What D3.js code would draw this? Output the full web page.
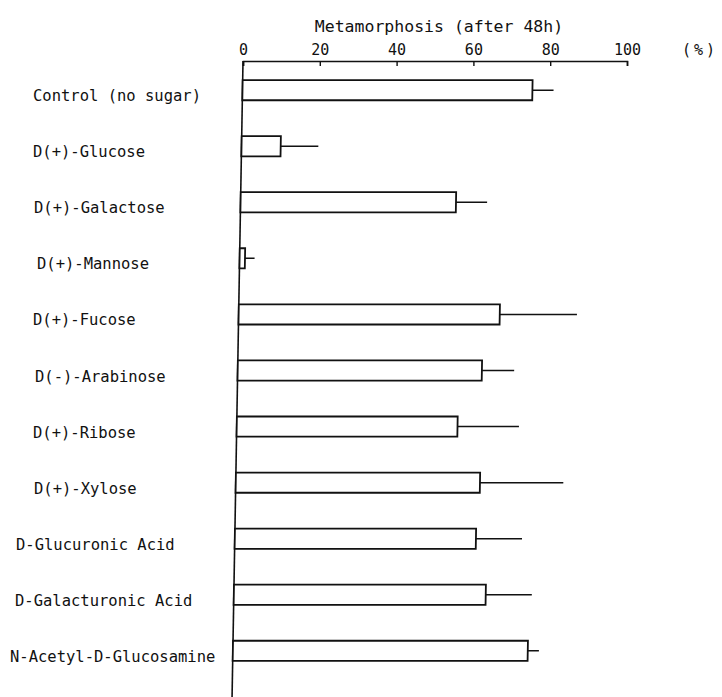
<!DOCTYPE html>
<html>
<head>
<meta charset="utf-8">
<script src="https://cdn.jsdelivr.net/npm/d3@7"></script>
<style>
  html, body { margin: 0; padding: 0; background: #fff; }
  svg { display: block; }
  text { font-family: "DejaVu Sans Mono", monospace; fill: #111; }
</style>
</head>
<body>
<svg id="chart" width="722" height="697"></svg>
<script>
// Sugars tested and metamorphosis rate (%) after 48 h, with the upper error extent
const categories = [
  "Control (no sugar)",
  "D(+)-Glucose",
  "D(+)-Galactose",
  "D(+)-Mannose",
  "D(+)-Fucose",
  "D(-)-Arabinose",
  "D(+)-Ribose",
  "D(+)-Xylose",
  "D-Glucuronic Acid",
  "D-Galacturonic Acid",
  "N-Acetyl-D-Glucosamine"
];
const meanValues = [75.5, 10.2, 56.1, 1.4, 68.0, 63.6, 57.5, 63.6, 62.8, 65.6, 76.8];
const errorValues = [5.5, 9.8, 8.1, 2.5, 20.1, 8.4, 16.0, 21.7, 12.0, 12.0, 2.9];
const tickValues = [0, 20, 40, 60, 80, 100];

// Left edge of each row label
const labelX = [33, 33, 34, 37, 33, 35, 33, 34, 16, 15, 10];

const svg = d3.select("#chart");
const axisY = 61;
const axisBottom = 697;

const x = d3.scaleLinear().domain([0, 100]).range([243, 627]);
const y = d3.scaleBand()
  .domain(categories)
  .range([axisY, 680])
  .paddingInner(0.64)
  .paddingOuter(0.34);

const rows = categories.map((c, i) => ({ name: c, mean: meanValues[i], err: errorValues[i], lx: labelX[i] }));

// Title and unit
svg.append("text")
  .attr("x", (x(0) + x(100)) / 2 + 4)
  .attr("y", 32)
  .attr("text-anchor", "middle")
  .style("font-size", "16.5px")
  .text("Metamorphosis (after 48h)");

svg.append("text")
  .attr("x", 700)
  .attr("y", 55)
  .attr("text-anchor", "middle")
  .style("font-size", "15px")
  .style("letter-spacing", "3px")
  .text("(%)");

// Top value axis with inward ticks
const topAxis = svg.append("g")
  .attr("transform", `translate(0,${axisY})`)
  .call(d3.axisTop(x)
    .tickValues(tickValues)
    .tickSizeInner(-5)
    .tickSizeOuter(-5)
    .tickPadding(10));
topAxis.select(".domain").attr("stroke", "#111").attr("stroke-width", 1.6);
topAxis.selectAll(".tick line").attr("stroke", "#111").attr("stroke-width", 1.4);
topAxis.selectAll(".tick text")
  .attr("y", -6)
  .style("font-family", "DejaVu Sans Mono, monospace")
  .style("font-size", "15px")
  .attr("fill", "#111");

// Marks: the plotted area leans slightly to the left going down
const skew = Math.atan(-0.0172) * 180 / Math.PI;
const plot = svg.append("g")
  .attr("transform", `translate(0,${axisY}) skewX(${skew}) translate(0,${-axisY})`);

plot.append("line")
  .attr("x1", x(0)).attr("x2", x(0))
  .attr("y1", axisY).attr("y2", axisBottom)
  .attr("stroke", "#111").attr("stroke-width", 1.6);

plot.selectAll("line.err")
  .data(rows)
  .join("line")
  .attr("class", "err")
  .attr("x1", d => x(d.mean))
  .attr("x2", d => x(d.mean + d.err))
  .attr("y1", d => y(d.name) + y.bandwidth() / 2)
  .attr("y2", d => y(d.name) + y.bandwidth() / 2)
  .attr("stroke", "#111")
  .attr("stroke-width", 1.5);

plot.selectAll("rect.bar")
  .data(rows)
  .join("rect")
  .attr("class", "bar")
  .attr("x", x(0))
  .attr("y", d => y(d.name))
  .attr("width", d => x(d.mean) - x(0))
  .attr("height", y.bandwidth())
  .attr("fill", "#fff")
  .attr("stroke", "#111")
  .attr("stroke-width", 1.8);

// Row labels
svg.selectAll("text.cat")
  .data(rows)
  .join("text")
  .attr("class", "cat")
  .attr("x", d => d.lx)
  .attr("y", d => y(d.name) + y.bandwidth() / 2 + 11)
  .style("font-size", "15.5px")
  .text(d => d.name);
</script>
</body>
</html>
